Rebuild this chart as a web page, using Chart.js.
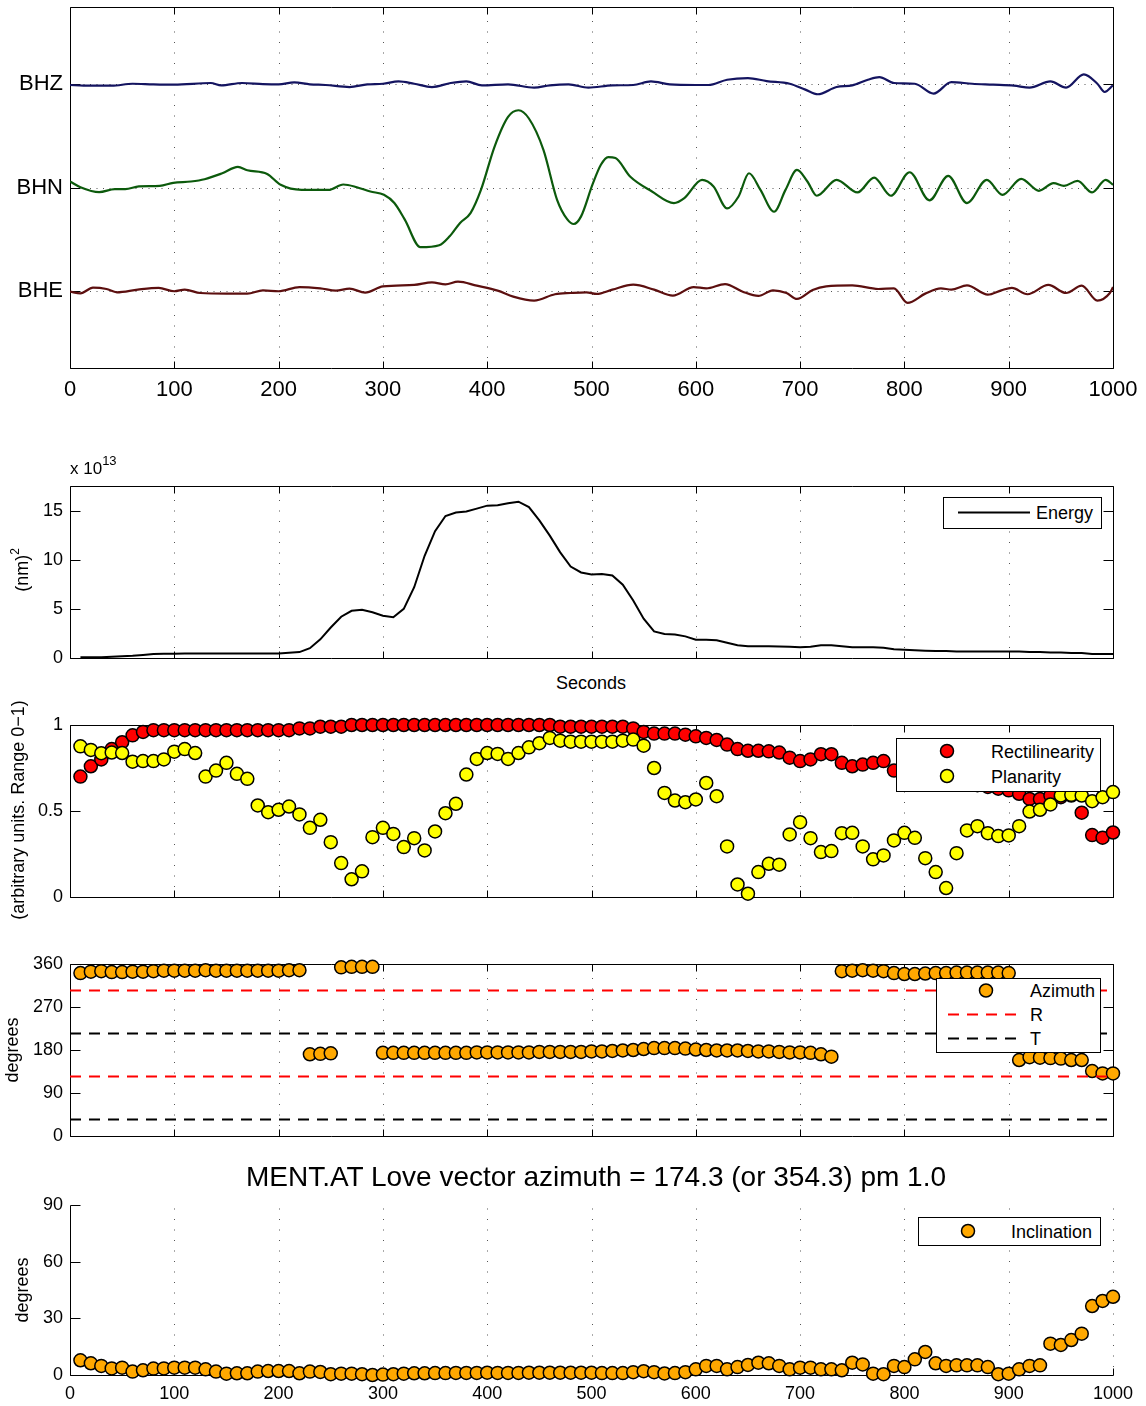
<!DOCTYPE html>
<html lang="en">
<head>
<meta charset="UTF-8">
<title>MENT.AT polarization analysis</title>
<script src="https://cdn.jsdelivr.net/npm/chart.js"></script>
<style>
    body {
        margin: 0;
        background: #fff;
        font-family: "Liberation Sans", Arial, sans-serif;
        color: #000;
    }
    #page { position: relative; width: 1146px; height: 1406px; overflow: hidden; }
    .panel { position: absolute; left: 0; width: 1146px; }
    .lbl { position: absolute; white-space: nowrap; font-size: 18px; line-height: 1; }
    .center { transform: translate(-50%, -50%); }
    .vert { transform: translate(-50%, -50%) rotate(-90deg); }
    .lbl sup { font-size: 12px; vertical-align: 0; position: relative; top: -9px; }
    svg.legend { position: absolute; z-index: 2; font-family: "Liberation Sans", Arial, sans-serif; font-size: 18px; }
</style>
</head>
<body>
<div id="page">
    <div class="panel" style="top:0;height:410px"><canvas id="traces"></canvas></div>
    <div class="panel" style="top:440px;height:230px"><canvas id="energy"></canvas></div>
    <div class="panel" style="top:700px;height:210px"><canvas id="shape"></canvas></div>
    <div class="panel" style="top:940px;height:210px"><canvas id="azimuth"></canvas></div>
    <div class="panel" style="top:1190px;height:216px"><canvas id="inclination"></canvas></div>

    <div class="lbl" style="left:70px;top:460px;font-size:17px">x 10<sup style="font-size:13px">13</sup></div>
    <div class="lbl vert" style="left:22px;top:570px">(nm)<sup>2</sup></div>
    <div class="lbl center" style="left:591px;top:683px">Seconds</div>
    <div class="lbl vert" style="left:18px;top:810px">(arbitrary units. Range 0&minus;1)</div>
    <div class="lbl vert" style="left:12px;top:1050px">degrees</div>
    <div class="lbl center" style="left:596px;top:1177px;font-size:28px">MENT.AT Love vector azimuth = 174.3 (or 354.3) pm 1.0</div>
    <div class="lbl vert" style="left:22px;top:1290px">degrees</div>

    <svg class="legend" style="left:943px;top:497px" width="159" height="32">
        <rect x="0.5" y="0.5" width="158" height="31" fill="#fff" stroke="#000"/>
        <line x1="15" y1="15.5" x2="87" y2="15.5" stroke="#000" stroke-width="2"/>
        <text x="93" y="22">Energy</text>
    </svg>
    <svg class="legend" style="left:896px;top:738px" width="205" height="54">
        <rect x="0.5" y="0.5" width="204" height="53" fill="#fff" stroke="#000"/>
        <circle cx="51" cy="13" r="6.5" fill="#ff0000" stroke="#000" stroke-width="1.5"/>
        <text x="95" y="19.5">Rectilinearity</text>
        <circle cx="51" cy="38" r="6.5" fill="#ffff00" stroke="#000" stroke-width="1.5"/>
        <text x="95" y="44.5">Planarity</text>
    </svg>
    <svg class="legend" style="left:936px;top:978px" width="165" height="75">
        <rect x="0.5" y="0.5" width="164" height="74" fill="#fff" stroke="#000"/>
        <circle cx="50" cy="12.5" r="6.5" fill="#ffa800" stroke="#000" stroke-width="1.5"/>
        <text x="94" y="19">Azimuth</text>
        <line x1="12" y1="36.5" x2="84" y2="36.5" stroke="#ff0000" stroke-width="2" stroke-dasharray="11 8"/>
        <text x="94" y="43">R</text>
        <line x1="12" y1="60.5" x2="84" y2="60.5" stroke="#000" stroke-width="2" stroke-dasharray="11 8"/>
        <text x="94" y="67">T</text>
    </svg>
    <svg class="legend" style="left:918px;top:1217px" width="183" height="29">
        <rect x="0.5" y="0.5" width="182" height="28" fill="#fff" stroke="#000"/>
        <circle cx="50" cy="14" r="6.5" fill="#ffa800" stroke="#000" stroke-width="1.5"/>
        <text x="93" y="20.5">Inclination</text>
    </svg>
</div>

<script>
    // ---- data ----
    const X_TICKS = [0, 100, 200, 300, 400, 500, 600, 700, 800, 900, 1000];
    const CHANNELS = ['BHE', 'BHN', 'BHZ'];   // plotted at levels 0, 1, 2

    // seismograms: time (s) and deflection (in units of trace spacing)
    const BHZ_T = [0, 13, 40, 60, 80, 100, 135, 145, 165, 185, 200, 215, 230, 245, 268, 285, 300, 315, 330, 347,
        365, 380, 395, 420, 445, 460, 478, 497, 520, 540, 557, 575, 600, 612, 630, 650, 668, 690, 705, 717,
        735, 750, 765, 776, 790, 810, 828, 845, 865, 885, 905, 920, 940, 955, 972, 985, 992, 1000];
    const BHZ_V = [-0.006, -0.013, -0.013, 0.006, 0, -0.003, 0.013, -0.01, 0.013, 0.003, 0, 0.019, 0, -0.006, -0.026, 0, 0.006, 0.029, 0.006, -0.026,
        0.013, 0.029, -0.01, 0, -0.032, -0.01, 0, -0.032, -0.01, -0.006, 0.029, 0, -0.006, -0.006, 0.045, 0.061, 0.032, 0.006, -0.051, -0.096,
        -0.026, -0.01, 0.045, 0.071, 0.013, 0.006, -0.09, 0.022, 0.006, -0.003, -0.013, -0.032, 0.029, -0.032, 0.096, 0.006, -0.074, -0.01];

    const BHN_T = [0, 10, 28, 43, 53, 66, 86, 99, 116, 129, 146, 161, 170, 189, 202, 222, 248, 262, 275, 288,
        301, 311, 321, 336, 354, 364, 374, 384, 394, 407, 420, 430, 440, 454, 467, 477, 483, 490, 501, 509,
        516, 523, 537, 558, 579, 589, 606, 617, 630, 641, 651, 662, 675, 686, 697, 707, 716, 735, 755, 771,
        787, 805, 824, 842, 860, 879, 894, 912, 929, 943, 953, 966, 980, 993, 1000];
    const BHN_V = [0.058, 0.003, -0.045, -0.016, -0.016, 0.01, 0.016, 0.045, 0.058, 0.08, 0.138, 0.2, 0.167, 0.132, 0.026, -0.023, -0.023, 0.029, 0.003, -0.039,
        -0.071, -0.151, -0.312, -0.579, -0.56, -0.473, -0.344, -0.248, -0.023, 0.395, 0.685, 0.749, 0.669, 0.363, -0.119, -0.312, -0.354, -0.28, 0.03, 0.22,
        0.295, 0.285, 0.106, -0.039, -0.151, -0.103, 0.074, 0.01, -0.203, -0.087, 0.138, -0.023, -0.235, -0.023, 0.17, 0.058, -0.08, 0.074, -0.048, 0.096,
        -0.08, 0.148, -0.125, 0.113, -0.151, 0.074, -0.071, 0.084, -0.032, 0.042, 0.016, 0.064, -0.048, 0.074, 0.026];

    const BHE_T = [0, 10, 22, 35, 45, 65, 85, 100, 110, 125, 150, 170, 185, 200, 220, 240, 255, 268, 283, 300,
        330, 347, 360, 372, 390, 410, 425, 445, 465, 480, 495, 505, 520, 540, 560, 578, 598, 610, 628, 645,
        660, 674, 687, 697, 712, 725, 750, 775, 790, 803, 820, 835, 845, 860, 880, 893, 903, 918, 938, 955,
        970, 985, 997, 1000];
    const BHE_V = [-0.01, -0.026, 0.029, 0.016, -0.016, 0.01, 0.026, -0.006, 0.01, -0.023, -0.029, -0.029, 0.003, -0.006, 0.035, 0.022, 0, 0.019, -0.019, 0.042,
        0.055, 0.08, 0.061, 0.087, 0.048, 0, -0.058, -0.096, -0.035, -0.023, -0.016, -0.032, 0.01, 0.058, 0.01, -0.048, 0.035, 0.022, 0.064, -0.01,
        -0.051, 0.003, -0.023, -0.08, 0.006, 0.042, 0.051, 0.016, 0.022, -0.119, -0.029, 0.022, 0.01, 0.051, -0.039, 0.003, 0.026, -0.035, 0.055, -0.023,
        0.048, -0.096, -0.023, 0.035];

    // windowed measurements every 10 s
    const WIN_T = Array.from({ length: 100 }, (_, i) => 10 * (i + 1));

    const ENERGY = [ // x 1e13 nm^2
        0.07, 0.07, 0.08, 0.12, 0.17, 0.22, 0.30, 0.40, 0.42, 0.44,
        0.45, 0.45, 0.45, 0.45, 0.45, 0.45, 0.45, 0.45, 0.46, 0.47,
        0.54, 0.60, 1.0, 1.9, 3.1, 4.2, 4.8, 4.9, 4.65, 4.3,
        4.15, 5.0, 7.2, 10.4, 12.9, 14.45, 14.8, 14.9, 15.2, 15.5,
        15.55, 15.75, 15.9, 15.35, 14.0, 12.45, 10.75, 9.3, 8.7, 8.5,
        8.55, 8.4, 7.45, 5.85, 4.0, 2.7, 2.45, 2.4, 2.2, 1.85,
        1.85, 1.8, 1.55, 1.3, 1.2, 1.2, 1.2, 1.17, 1.15, 1.1,
        1.15, 1.3, 1.3, 1.2, 1.1, 1.1, 1.1, 1.05, 0.9, 0.85,
        0.8, 0.75, 0.7, 0.7, 0.65, 0.65, 0.65, 0.65, 0.65, 0.65,
        0.65, 0.6, 0.6, 0.55, 0.55, 0.5, 0.5, 0.4, 0.4, 0.4];

    const RECTILINEARITY = [
        0.70, 0.76, 0.80, 0.86, 0.90, 0.94, 0.96, 0.97, 0.97, 0.97,
        0.97, 0.97, 0.97, 0.97, 0.97, 0.97, 0.97, 0.97, 0.97, 0.97,
        0.97, 0.98, 0.98, 0.99, 0.99, 0.99, 1.0, 1.0, 1.0, 1.0,
        1.0, 1.0, 1.0, 1.0, 1.0, 1.0, 1.0, 1.0, 1.0, 1.0,
        1.0, 1.0, 1.0, 1.0, 1.0, 1.0, 0.99, 0.99, 0.99, 0.99,
        0.99, 0.99, 0.99, 0.98, 0.96, 0.95, 0.95, 0.95, 0.944, 0.934,
        0.925, 0.913, 0.886, 0.86, 0.85, 0.85, 0.847, 0.84, 0.81, 0.79,
        0.80, 0.83, 0.83, 0.78, 0.76, 0.77, 0.78, 0.79, 0.735, 0.72,
        0.71, 0.70, 0.69, 0.68, 0.67, 0.66, 0.65, 0.64, 0.63, 0.62,
        0.60, 0.57, 0.57, 0.59, 0.58, 0.59, 0.49, 0.36, 0.345, 0.375];

    const PLANARITY = [
        0.876, 0.855, 0.836, 0.84, 0.837, 0.787, 0.79, 0.79, 0.80, 0.845,
        0.86, 0.837, 0.70, 0.735, 0.78, 0.716, 0.687, 0.532, 0.493, 0.507,
        0.526, 0.48, 0.402, 0.449, 0.319, 0.197, 0.103, 0.149, 0.348, 0.402,
        0.367, 0.29, 0.342, 0.271, 0.381, 0.487, 0.542, 0.712, 0.803, 0.837,
        0.832, 0.803, 0.837, 0.87, 0.894, 0.925, 0.909, 0.903, 0.903, 0.903,
        0.903, 0.903, 0.909, 0.915, 0.88, 0.75, 0.605, 0.561, 0.551, 0.567,
        0.663, 0.586, 0.294, 0.073, 0.019, 0.145, 0.193, 0.188, 0.364, 0.435,
        0.342, 0.261, 0.267, 0.371, 0.373, 0.294, 0.219, 0.242, 0.329, 0.373,
        0.344, 0.226, 0.145, 0.052, 0.255, 0.387, 0.412, 0.371, 0.354, 0.358,
        0.412, 0.497, 0.507, 0.538, 0.59, 0.594, 0.59, 0.557, 0.58, 0.61];

    const AZIMUTH = [
        341, 344, 345, 343, 343, 344, 344, 345, 346, 346,
        346, 346, 347, 346, 346, 346, 346, 346, 346, 346,
        347, 347, 171, 172, 173, 353, 354, 354, 354, 174,
        174, 174, 174, 174, 174, 174, 174, 174, 175, 175,
        175, 175, 175, 175, 176, 176, 176, 176, 176, 177,
        177, 178, 179, 180, 182, 184, 184, 184, 183, 181,
        180, 179, 179, 179, 178, 177, 177, 176, 175, 175,
        174, 171, 166, 345, 346, 347, 346, 345, 341, 339,
        339, 340, 341, 341, 342, 342, 342, 342, 342, 341,
        159, 165, 164, 163, 162, 159, 159, 136, 131, 131];

    const R_AZ = [124.3, 304.3];   // radial directions
    const T_AZ = [34.3, 214.3];    // transverse directions

    const INCLINATION = [
        7.8, 6.2, 4.8, 3.5, 3.9, 1.8, 2.5, 3.4, 3.5, 3.9,
        3.9, 3.9, 3.0, 1.8, 0.7, 0.9, 0.9, 1.8, 2.1, 2.1,
        2.1, 0.9, 1.8, 1.6, 0.4, 0.7, 0.7, 0.4, 0.0, 0.2,
        0.4, 0.7, 0.9, 0.9, 1.0, 1.0, 1.1, 1.1, 1.1, 1.2,
        1.1, 1.1, 1.1, 1.2, 1.2, 1.2, 1.2, 1.2, 1.2, 1.2,
        1.0, 1.0, 1.0, 1.5, 2.0, 1.5, 0.8, 1.0, 1.5, 3.0,
        4.8, 4.8, 3.0, 4.2, 5.3, 6.5, 6.2, 4.8, 3.0, 3.9,
        3.9, 3.0, 3.0, 2.5, 6.5, 5.6, 0.7, 0.4, 4.8, 4.2,
        8.3, 12.2, 6.2, 4.8, 5.1, 5.1, 5.1, 4.2, 0.4, 0.7,
        3.0, 4.8, 5.1, 16.6, 15.9, 18.5, 21.9, 36.5, 39.2, 41.4];

    // ---- helpers ----
    Chart.defaults.font.family = '"Liberation Sans", Arial, sans-serif';
    Chart.defaults.color = '#000';

    const xy = (ts, vs, offset = 0) => ts.map((t, i) => ({ x: t, y: vs[i] + offset }));
    const flat = v => [{ x: 0, y: v }, { x: 1000, y: v }];

    // MATLAB-like axes: sparse dotted grid, box, inward ticks
    const matlabAxes = {
        id: 'matlabAxes',
        beforeDatasetsDraw(chart, args, o) {
            const { ctx, chartArea: a, scales: { x, y } } = chart;
            const L = Math.round(a.left) + 0.5, R = Math.round(a.right) + 0.5;
            const T = Math.round(a.top) + 0.5, B = Math.round(a.bottom) + 0.5;
            ctx.save();
            ctx.strokeStyle = '#555';
            ctx.lineWidth = 1;
            ctx.setLineDash([1, 9.5]);
            ctx.beginPath();
            x.ticks.forEach(t => {
                const px = Math.round(x.getPixelForValue(t.value)) + 0.5;
                ctx.moveTo(px, T + 3); ctx.lineTo(px, B);
            });
            ctx.stroke();
            if (o.yGrid) {
                ctx.setLineDash([1, 5.5]);
                ctx.beginPath();
                y.ticks.forEach(t => {
                    const py = Math.round(y.getPixelForValue(t.value)) + 0.5;
                    ctx.moveTo(L, py); ctx.lineTo(R, py);
                });
                ctx.stroke();
            }

            ctx.setLineDash([]);
            ctx.strokeStyle = '#000';
            ctx.beginPath();
            if (o.box) {
                ctx.rect(L, T, R - L, B - T);
            } else {
                ctx.moveTo(L, T); ctx.lineTo(L, B); ctx.lineTo(R, B);
            }
            x.ticks.forEach(t => {
                const px = Math.round(x.getPixelForValue(t.value)) + 0.5;
                ctx.moveTo(px, B); ctx.lineTo(px, B - 7);
                if (o.box) { ctx.moveTo(px, T); ctx.lineTo(px, T + 7); }
            });
            y.ticks.forEach(t => {
                const py = Math.round(y.getPixelForValue(t.value)) + 0.5;
                ctx.moveTo(L, py); ctx.lineTo(L + 10, py);
                if (o.box) { ctx.moveTo(R, py); ctx.lineTo(R - 10, py); }
            });
            ctx.stroke();
            ctx.restore();
        }
    };

    function xScale(showLabels, size, pad, height) {
        return {
            type: 'linear', min: 0, max: 1000,
            afterBuildTicks: s => { s.ticks = X_TICKS.map(v => ({ value: v })); },
            grid: { display: false, drawTicks: false },
            border: { display: false },
            ticks: { display: showLabels, padding: pad, font: { size }, color: '#000', maxRotation: 0, autoSkip: false,
                callback: v => String(v) },
            afterFit: s => { s.height = height; s.paddingLeft = 0; s.paddingRight = 0; }
        };
    }

    function yScale(min, max, tickValues, size, format) {
        return {
            type: 'linear', min, max,
            afterBuildTicks: s => { s.ticks = tickValues.map(v => ({ value: v })); },
            grid: { display: false, drawTicks: false },
            border: { display: false },
            ticks: { padding: 7, font: { size }, color: '#000', callback: format || (v => String(v)) },
            afterFit: s => { s.width = 70; s.paddingTop = 0; s.paddingBottom = 0; }
        };
    }

    function makeChart(id, datasets, x, y, padTop, axesOpts) {
        return new Chart(document.getElementById(id), {
            type: 'line',
            data: { datasets },
            options: {
                responsive: true,
                maintainAspectRatio: false,
                animation: false,
                devicePixelRatio: 1,
                layout: { padding: { top: padTop, right: 33, left: 0, bottom: 0 } },
                scales: { x, y },
                plugins: { legend: { display: false }, tooltip: { enabled: false }, matlabAxes: axesOpts }
            },
            plugins: [matlabAxes]
        });
    }

    const dots = (values, color) => ({
        data: xy(WIN_T, values),
        showLine: false,
        pointRadius: 6.5,
        pointBorderWidth: 1.5,
        pointBorderColor: '#000',
        pointBackgroundColor: color,
        clip: false
    });

    const trace = (ts, vs, level, color) => ({
        data: xy(ts, vs, level),
        borderColor: color,
        borderWidth: 2.2,
        pointRadius: 0,
        cubicInterpolationMode: 'monotone'
    });

    // 1: three-component seismograms
    makeChart('traces', [
        trace(BHZ_T, BHZ_V, 2, '#141460'),
        trace(BHN_T, BHN_V, 1, '#0c5a0c'),
        trace(BHE_T, BHE_V, 0, '#5c0f0f')
    ], xScale(true, 22, 9, 42), yScale(-0.75, 2.75, [0, 1, 2], 22, v => CHANNELS[v]), 7, { box: true, yGrid: true });

    // 2: energy
    makeChart('energy', [{
        data: xy(WIN_T, ENERGY),
        borderColor: '#000',
        borderWidth: 2,
        pointRadius: 0,
        tension: 0
    }], xScale(false, 18, 0, 12), yScale(0, 17.5, [0, 5, 10, 15], 18), 46, { box: true });

    // 3: rectilinearity / planarity
    makeChart('shape', [
        dots(PLANARITY, '#ffff00'),
        dots(RECTILINEARITY, '#ff0000')
    ], xScale(false, 18, 0, 13), yScale(0, 1, [0, 0.5, 1], 18), 25, { box: true });

    // 4: azimuth with radial / transverse directions
    const dashed = (v, color) => ({
        data: flat(v), borderColor: color, borderWidth: 2, borderDash: [11, 8], pointRadius: 0
    });
    makeChart('azimuth', [
        ...R_AZ.map(v => dashed(v, '#ff0000')),
        ...T_AZ.map(v => dashed(v, '#000')),
        dots(AZIMUTH, '#ffa800')
    ], xScale(false, 18, 0, 14), yScale(0, 360, [0, 90, 180, 270, 360], 18), 24, { box: true });

    // 5: inclination
    makeChart('inclination', [
        dots(INCLINATION, '#ffa800')
    ], xScale(true, 18, 8, 31), yScale(0, 90, [0, 30, 60, 90], 18), 15, { box: false });
</script>
</body>
</html>
